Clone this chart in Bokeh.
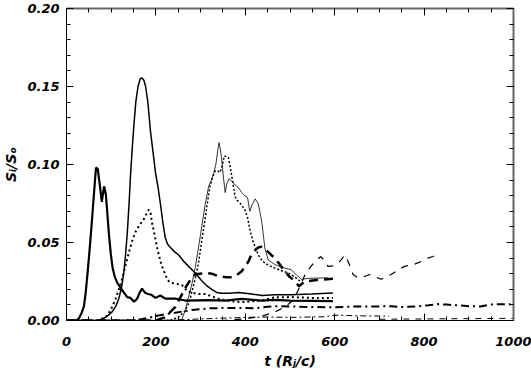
from bokeh.plotting import figure
from bokeh.models import (Range1d, LinearAxis, SingleIntervalTicker, NumeralTickFormatter,
                          CustomLabelingPolicy)
from bokeh.embed import file_html
from bokeh.resources import INLINE

# ---- data ----
t1 = [0, 22, 28, 34, 39, 43, 47, 51, 55, 59, 63, 66, 70, 74, 79, 84, 88, 91, 95, 99,
      103, 108, 114, 121, 128, 136, 143, 151, 158, 164, 169, 175, 182, 190, 199, 210, 221, 243, 266, 318,
      355, 392, 437, 466, 500, 550, 596]
y1 = [0, 0, 0.0015, 0.005, 0.009, 0.018, 0.030, 0.043, 0.057, 0.072, 0.087, 0.098, 0.097, 0.088, 0.076, 0.086, 0.081, 0.070, 0.055, 0.043,
      0.034, 0.028, 0.024, 0.021, 0.018, 0.015, 0.0145, 0.012, 0.014, 0.018, 0.0205, 0.018, 0.017, 0.0165, 0.0145, 0.016, 0.014, 0.014, 0.0128, 0.013,
      0.0128, 0.0139, 0.0128, 0.0132, 0.0128, 0.0126, 0.0124]

t2 = [0, 70, 80, 92, 102, 110, 117, 123, 128, 132, 136, 140, 143, 147, 151, 155, 160, 165, 169, 173,
      177, 182, 188, 194, 199, 205, 210, 216, 221, 226, 232, 242, 251, 262, 273, 288, 303, 315, 325, 336,
      347, 365, 385, 414, 437, 466, 503, 548, 596]
y2 = [0, 0, 0.0008, 0.003, 0.0055, 0.009, 0.014, 0.021, 0.030, 0.042, 0.056, 0.075, 0.092, 0.110, 0.126, 0.140, 0.150, 0.155, 0.1555, 0.154,
      0.150, 0.140, 0.121, 0.107, 0.095, 0.085, 0.075, 0.062, 0.053, 0.049, 0.047, 0.044, 0.042, 0.038, 0.0347, 0.0305, 0.0253, 0.022, 0.020, 0.018,
      0.0174, 0.0175, 0.018, 0.017, 0.016, 0.0165, 0.0165, 0.017, 0.0176]

t3 = [0, 240, 258, 266, 273, 281, 288, 296, 303, 310, 318, 324, 329, 334, 338, 341, 344, 347, 351, 355,
      359, 364, 370, 377, 385, 392, 399, 405, 410, 415, 422, 429, 433, 437, 441, 444, 451, 466, 488, 503,
      515, 526, 540, 560, 585]
y3 = [0, 0, 0.0005, 0.007, 0.015, 0.024, 0.034, 0.048, 0.061, 0.074, 0.086, 0.090, 0.094, 0.100, 0.108, 0.114, 0.110, 0.104, 0.092, 0.082,
      0.088, 0.091, 0.089, 0.087, 0.085, 0.082, 0.080, 0.079, 0.070, 0.074, 0.078, 0.075, 0.069, 0.063, 0.053, 0.046, 0.039, 0.0358, 0.0336, 0.0325,
      0.029, 0.0264, 0.027, 0.0272, 0.0274]

t4 = [0, 70, 88, 95, 102, 110, 121, 130, 140, 147, 154, 163, 173, 180, 184, 188, 191, 195, 199, 204,
      210, 216, 221, 226, 232, 245, 258, 264, 269, 280, 292, 310, 325, 340, 365, 392, 437, 466, 503, 550, 596]
y4 = [0, 0, 0.0024, 0.005, 0.0086, 0.014, 0.023, 0.033, 0.044, 0.051, 0.0566, 0.061, 0.065, 0.069, 0.071, 0.069, 0.063, 0.058, 0.052, 0.045,
      0.038, 0.033, 0.0295, 0.026, 0.0243, 0.0235, 0.0228, 0.021, 0.019, 0.018, 0.017, 0.017, 0.0155, 0.0139, 0.0125, 0.0118, 0.0128, 0.0149, 0.015, 0.0145, 0.0145]

t5 = [0, 230, 250, 265, 275, 281, 289, 296, 303, 310, 316, 321, 327, 333, 338, 344, 349, 353, 358, 362,
      366, 370, 374, 377, 382, 388, 394, 399, 405, 410, 414, 418, 424, 429, 436, 444, 455, 466, 480, 496, 510, 522]
y5 = [0, 0, 0.002, 0.006, 0.012, 0.019, 0.028, 0.038, 0.052, 0.065, 0.077, 0.086, 0.092, 0.096, 0.096, 0.095, 0.100, 0.1055, 0.105, 0.1045,
      0.099, 0.092, 0.085, 0.0795, 0.077, 0.0753, 0.073, 0.071, 0.066, 0.0586, 0.054, 0.050, 0.046, 0.042, 0.039, 0.0367, 0.035, 0.0336, 0.032, 0.0305, 0.028, 0.0253]

t6 = [0, 200, 220, 243, 255, 266, 277, 288, 299, 310, 325, 340, 355, 370, 380, 392, 400, 407, 414, 422,
      430, 437, 444, 451, 458, 466, 477, 488, 499, 511, 520, 533, 560, 596]
y6 = [0, 0, 0.002, 0.0086, 0.015, 0.021, 0.026, 0.0295, 0.030, 0.0305, 0.030, 0.0284, 0.0278, 0.0278, 0.029, 0.0315, 0.035, 0.0378, 0.0425, 0.045,
      0.047, 0.0472, 0.046, 0.044, 0.042, 0.040, 0.036, 0.0316, 0.028, 0.0253, 0.022, 0.025, 0.026, 0.0268]

t7 = [0, 350, 400, 440, 470, 490, 503, 514, 524, 533, 545, 556, 569, 578, 585, 596, 607, 615, 622, 628,
      633, 641, 652, 665, 678, 690, 704, 716, 726, 740, 756, 778, 795, 808, 820, 830]
y7 = [0, 0, 0.001, 0.003, 0.006, 0.009, 0.012, 0.017, 0.023, 0.029, 0.034, 0.038, 0.041, 0.038, 0.0347, 0.035, 0.0367, 0.039, 0.042, 0.039,
      0.0357, 0.0295, 0.0274, 0.028, 0.0295, 0.028, 0.0264, 0.028, 0.0295, 0.032, 0.0347, 0.036, 0.038, 0.040, 0.041, 0.0424]

t8 = [0, 150, 180, 200, 220, 243, 260, 281, 300, 318, 350, 400, 422, 450, 466, 500, 550, 600, 652, 700,
      726, 750, 786, 810, 830, 850, 875, 900, 926, 956, 980, 1000]
y8 = [0, 0, 0.0015, 0.0028, 0.004, 0.005, 0.0058, 0.0068, 0.0072, 0.0078, 0.0080, 0.0080, 0.0078, 0.0088, 0.0092, 0.009, 0.0086, 0.0085, 0.009, 0.009,
      0.0092, 0.0086, 0.009, 0.0098, 0.0105, 0.0102, 0.0097, 0.0092, 0.009, 0.0105, 0.0104, 0.0103]

t9 = [0, 200, 250, 300, 350, 400, 450, 503, 540, 577, 600, 630, 652, 690, 722]
y9 = [0, 0, 0.0004, 0.001, 0.0015, 0.002, 0.0022, 0.002, 0.0022, 0.0024, 0.0034, 0.0032, 0.003, 0.0029, 0.0028]

t10 = [700, 800, 900, 1000]
y10 = [0.0008, 0.001, 0.0012, 0.0014]

x_ticks_interval = 200
y_ticks_interval = 0.05

FONT = "DejaVu Sans"

p = figure(width=531, height=374, x_range=Range1d(0, 1000), y_range=Range1d(0, 0.2),
           output_backend="svg", toolbar_location=None,
           min_border_left=64, min_border_right=18, min_border_top=8, min_border_bottom=54,
           background_fill_color="white", border_fill_color="white")
p.grid.visible = False
p.outline_line_color = None

def style_axis(ax):
    ax.axis_line_color = "black"
    ax.axis_line_width = 1
    ax.major_tick_in = 7
    ax.major_tick_out = 0
    ax.minor_tick_in = 4
    ax.minor_tick_out = 0
    ax.major_tick_line_color = "black"
    ax.minor_tick_line_color = "black"
    ax.major_label_text_font = FONT
    ax.major_label_text_font_style = "bold italic"
    ax.major_label_text_font_size = "13px"
    ax.major_label_text_color = "black"
    ax.axis_label_text_font = FONT
    ax.axis_label_text_font_style = "bold italic"
    ax.axis_label_text_font_size = "14px"
    ax.axis_label_text_color = "black"

xa = p.xaxis[0]
ya = p.yaxis[0]
xa.ticker = SingleIntervalTicker(interval=x_ticks_interval, num_minor_ticks=4)
ya.ticker = SingleIntervalTicker(interval=y_ticks_interval, num_minor_ticks=5)
ya.formatter = NumeralTickFormatter(format="0.00")
style_axis(xa)
style_axis(ya)
xa.axis_label = "t (R\u2c7c/c)"
ya.axis_label = "S\u1d62/S\u2092"
xa.major_label_standoff = 16
xa.axis_label_standoff = 4
ya.major_label_standoff = 7
ya.axis_label_standoff = 5

hide_all = CustomLabelingPolicy(code="""
const all = [...indices]
for (const i of all) indices.unset(i)
return indices
""")

for loc in ("above", "right"):
    ax = LinearAxis(
        ticker=SingleIntervalTicker(interval=x_ticks_interval if loc == "above" else y_ticks_interval,
                                    num_minor_ticks=4 if loc == "above" else 5))
    style_axis(ax)
    ax.major_label_text_font_size = "1px"
    ax.major_label_standoff = 0
    ax.major_label_policy = hide_all
    ax.axis_line_color = "#666666"
    ax.axis_line_width = 2
    p.add_layout(ax, loc)

# ---- curves ----
p.line(t1, y1, line_color="black", line_width=2.2)
p.line(t2, y2, line_color="black", line_width=1.5)
p.line(t3, y3, line_color="black", line_width=0.8)
p.line(t4, y4, line_color="black", line_width=2.0, line_dash="2 3")
p.line(t5, y5, line_color="black", line_width=1.5, line_dash="2 2")
p.line(t6, y6, line_color="black", line_width=2.5, line_dash="9 6")
p.line(t7, y7, line_color="black", line_width=1.2, line_dash="7 7")
p.line(t8, y8, line_color="black", line_width=2.0, line_dash="8 4 2 4")
p.line(t9, y9, line_color="black", line_width=1.0, line_dash="6 3 2 3")
p.line(t10, y10, line_color="black", line_width=1.0, line_dash="6 6")

open("out.html", "w").write(file_html(p, INLINE))
